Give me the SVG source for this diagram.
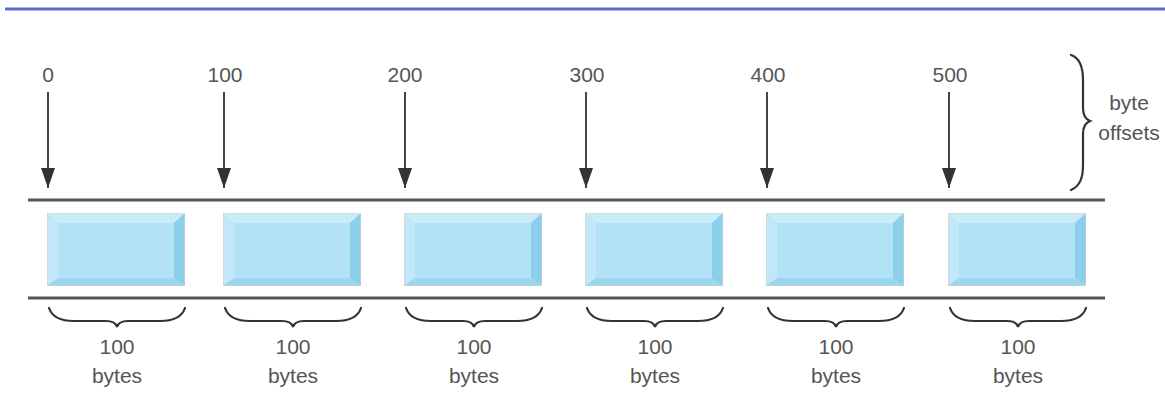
<svg xmlns="http://www.w3.org/2000/svg" xmlns:xlink="http://www.w3.org/1999/xlink" width="1165" height="393" viewBox="0 0 1165 393">
<style>
  .lbl { font-family: "Liberation Sans", "DejaVu Sans", sans-serif; font-size: 21px; fill: #555; text-anchor: middle; }
  .rail { stroke: #555; stroke-width: 3; }
  .arrow { stroke: #444; stroke-width: 2; }
  .brace { fill: none; stroke: #333; stroke-width: 2.2; stroke-linecap: round; }
  .face { fill: #b2e2f6; }
</style>
<defs>
  <g id="box">
    <rect x="0" y="0" width="138" height="73" fill="#d0d0d0"/>
    <polygon points="0.5,0.5 137.5,0.5 127,10 11,10" fill="#c9ecf9"/>
    <polygon points="0.5,0.5 11,10 11,65 0.5,72.5" fill="#c2e7f8"/>
    <polygon points="137.5,0.5 137.5,72.5 127,65 127,10" fill="#8ccfeb"/>
    <polygon points="0.5,72.5 137.5,72.5 127,65 11,65" fill="#9dd7ef"/>
    <rect class="face" x="11" y="10" width="116" height="55"/>
  </g>
  <marker id="ah" viewBox="0 0 20 14" refX="20" refY="7" markerWidth="20" markerHeight="14" markerUnits="userSpaceOnUse" orient="auto">
    <polygon points="0,0 20,7 0,14" fill="#333"/>
  </marker>
</defs>
<line x1="5" y1="9" x2="1165" y2="9" stroke="#5c6bd4" stroke-width="3"/>
<g id="rails">
  <line class="rail" x1="28" y1="200" x2="1105" y2="200"/>
  <line class="rail" x1="28" y1="298" x2="1105" y2="298"/>
</g>
<g id="node-0"><use xlink:href="#box" x="47" y="213"/><text class="lbl" x="48" y="82">0</text></g>
<g id="node-1"><use xlink:href="#box" x="223" y="213"/><text class="lbl" x="225" y="82">100</text></g>
<g id="node-2"><use xlink:href="#box" x="404" y="213"/><text class="lbl" x="405" y="82">200</text></g>
<g id="node-3"><use xlink:href="#box" x="585" y="213"/><text class="lbl" x="587" y="82">300</text></g>
<g id="node-4"><use xlink:href="#box" x="766" y="213"/><text class="lbl" x="768" y="82">400</text></g>
<g id="node-5"><use xlink:href="#box" x="948" y="213"/><text class="lbl" x="950" y="82">500</text></g>
<g id="connectors">
  <line class="arrow" x1="48" y1="92" x2="48" y2="188" marker-end="url(#ah)"/>
  <line class="arrow" x1="224" y1="92" x2="224" y2="188" marker-end="url(#ah)"/>
  <line class="arrow" x1="405" y1="92" x2="405" y2="188" marker-end="url(#ah)"/>
  <line class="arrow" x1="586" y1="92" x2="586" y2="188" marker-end="url(#ah)"/>
  <line class="arrow" x1="767" y1="92" x2="767" y2="188" marker-end="url(#ah)"/>
  <line class="arrow" x1="949" y1="92" x2="949" y2="188" marker-end="url(#ah)"/>
</g>
<g id="size-braces">
  <path class="brace" d="M49 308 C52 317 61 321 74 321 L106 321 C112 321 116 323 117 327 C118 323 122 321 128 321 L160 321 C173 321 182 317 185 308"/>
  <path class="brace" d="M225 308 C228 317 237 321 250 321 L282 321 C288 321 292 323 293 327 C294 323 298 321 304 321 L336 321 C349 321 358 317 361 308"/>
  <path class="brace" d="M406 308 C409 317 418 321 431 321 L463 321 C469 321 473 323 474 327 C475 323 479 321 485 321 L517 321 C530 321 539 317 542 308"/>
  <path class="brace" d="M587 308 C590 317 599 321 612 321 L644 321 C650 321 654 323 655 327 C656 323 660 321 666 321 L698 321 C711 321 720 317 723 308"/>
  <path class="brace" d="M768 308 C771 317 780 321 793 321 L825 321 C831 321 835 323 836 327 C837 323 841 321 847 321 L879 321 C892 321 901 317 904 308"/>
  <path class="brace" d="M950 308 C953 317 962 321 975 321 L1007 321 C1013 321 1017 323 1018 327 C1019 323 1023 321 1029 321 L1061 321 C1074 321 1083 317 1086 308"/>
</g>
<g id="size-labels">
  <text class="lbl" x="117" y="354">100</text><text class="lbl" x="117" y="383">bytes</text>
  <text class="lbl" x="293" y="354">100</text><text class="lbl" x="293" y="383">bytes</text>
  <text class="lbl" x="474" y="354">100</text><text class="lbl" x="474" y="383">bytes</text>
  <text class="lbl" x="655" y="354">100</text><text class="lbl" x="655" y="383">bytes</text>
  <text class="lbl" x="836" y="354">100</text><text class="lbl" x="836" y="383">bytes</text>
  <text class="lbl" x="1018" y="354">100</text><text class="lbl" x="1018" y="383">bytes</text>
</g>
<g id="offsets-brace">
  <path class="brace" d="M1071 55 C1080 58 1083 68 1083 80 L1083 108 C1083 115 1085 119 1090 121 C1085 123 1083 127 1083 134 L1083 165 C1083 178 1080 186 1071 190"/>
  <text class="lbl" x="1129" y="110">byte</text>
  <text class="lbl" x="1129" y="140">offsets</text>
</g>
</svg>
